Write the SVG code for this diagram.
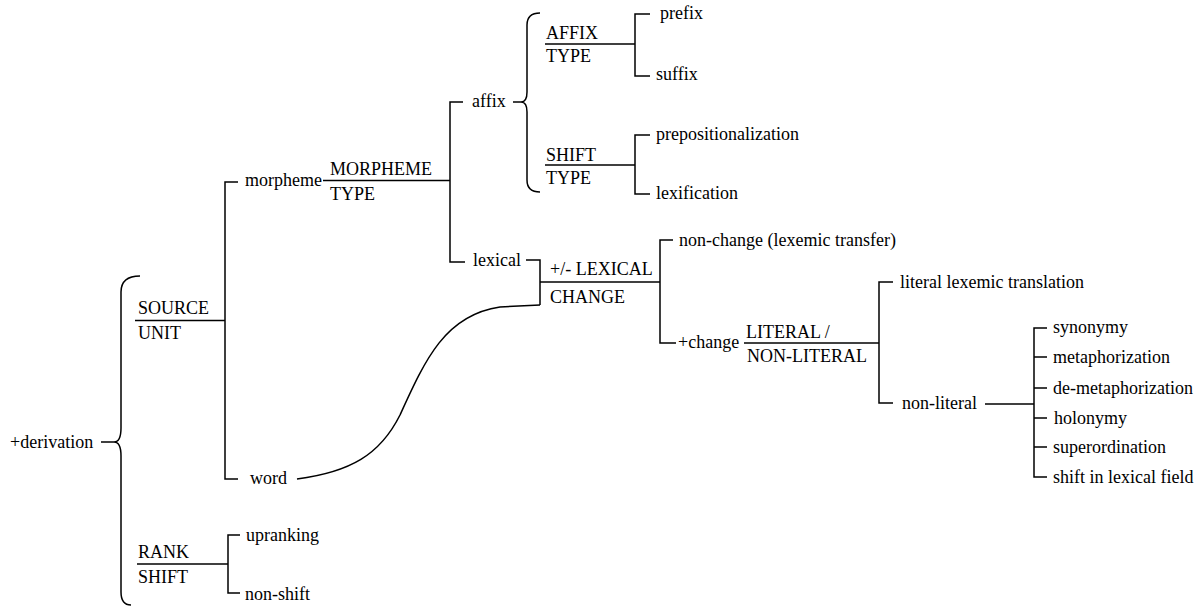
<svg xmlns="http://www.w3.org/2000/svg" width="1203" height="607" viewBox="0 0 1203 607">
<style>
text{font-family:"Liberation Serif","Times New Roman",serif;font-size:18px;fill:#000}
.c{fill:none;stroke:#000;stroke-width:1.5}
</style>
<rect width="1203" height="607" fill="#fff"/>
<g id="connectors" class="c">
<path d="M101,442 L114,442"/>
<path d="M140,276 Q121,276 121,292 L121,428 Q121,442 114,442 Q121,442 121,456 L121,592 Q121,605 131,605"/>
<path d="M135,320.5 L225,320.5"/>
<path d="M238,182 L225,182 L225,479 L238,479"/>
<path d="M323,180.5 L450,180.5"/>
<path d="M463,102 L450,102 L450,262 L465,262"/>
<path d="M513,102 L521,102"/>
<path d="M540,13 Q527,13 527,25 L527,92 Q527,102 521,102 Q527,102 527,112 L527,180 Q527,192 540,192"/>
<path d="M545,44 L635,44"/>
<path d="M650,14 L635,14 L635,76 L650,76"/>
<path d="M545,165 L635,165"/>
<path d="M650,135 L635,135 L635,194 L650,194"/>
<path d="M526,260 L540,260 L540,305"/>
<path d="M297,479 C350,472 380,455 400,415 C425,360 445,315 500,307 L540,305"/>
<path d="M540,282 L660,282"/>
<path d="M673,240 L660,240 L660,343 L676,343"/>
<path d="M744,343 L879,343"/>
<path d="M893,282 L879,282 L879,403 L893,403"/>
<path d="M985,404 L1034,404"/>
<path d="M1047,328 L1034,328 L1034,477 L1047,477"/>
<path d="M1034,357 L1047,357 M1034,388 L1047,388 M1034,418 L1047,418 M1034,447 L1047,447"/>
<path d="M137,564 L228,564"/>
<path d="M240,535 L228,535 L228,593 L240,593"/>
</g>
<g id="derivation"><text x="10" y="448">+derivation</text></g>
<g id="source-unit"><text x="138" y="314">SOURCE</text><text x="138" y="339">UNIT</text></g>
<g id="morpheme"><text x="245" y="186">morpheme</text></g>
<g id="morpheme-type"><text x="330" y="175">MORPHEME</text><text x="330" y="200">TYPE</text></g>
<g id="affix"><text x="472" y="107">affix</text></g>
<g id="lexical"><text x="473" y="266">lexical</text></g>
<g id="affix-type"><text x="546" y="39">AFFIX</text><text x="546" y="62">TYPE</text></g>
<g id="prefix"><text x="660" y="19">prefix</text></g>
<g id="suffix"><text x="656" y="80">suffix</text></g>
<g id="shift-type"><text x="546" y="161">SHIFT</text><text x="546" y="184">TYPE</text></g>
<g id="prepositionalization"><text x="656" y="140">prepositionalization</text></g>
<g id="lexification"><text x="656" y="199">lexification</text></g>
<g id="lexical-change"><text x="550" y="275">+/- LEXICAL</text><text x="550" y="303">CHANGE</text></g>
<g id="non-change"><text x="679" y="246">non-change (lexemic transfer)</text></g>
<g id="plus-change"><text x="678" y="348">+change</text></g>
<g id="literal-nonliteral"><text x="746" y="338">LITERAL /</text><text x="747" y="362">NON-LITERAL</text></g>
<g id="literal-translation"><text x="900" y="288">literal lexemic translation</text></g>
<g id="non-literal"><text x="902" y="409">non-literal</text></g>
<g id="synonymy"><text x="1053" y="333">synonymy</text></g>
<g id="metaphorization"><text x="1053" y="363">metaphorization</text></g>
<g id="de-metaphorization"><text x="1053" y="394">de-metaphorization</text></g>
<g id="holonymy"><text x="1054" y="424">holonymy</text></g>
<g id="superordination"><text x="1053" y="453">superordination</text></g>
<g id="shift-lexical-field"><text x="1053" y="483">shift in lexical field</text></g>
<g id="word"><text x="250" y="484">word</text></g>
<g id="rank-shift"><text x="138" y="558">RANK</text><text x="138" y="583">SHIFT</text></g>
<g id="upranking"><text x="246" y="541">upranking</text></g>
<g id="non-shift"><text x="245" y="600">non-shift</text></g>
</svg>
